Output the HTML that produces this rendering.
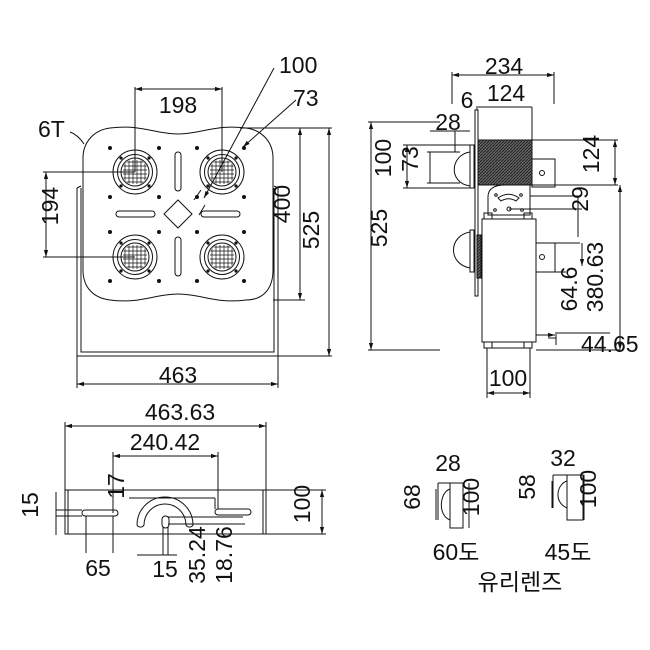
<!DOCTYPE html>
<html><head><meta charset="utf-8"><style>
body{margin:0;background:#fff}
svg{display:block}
text{font-family:"Liberation Sans","Noto Sans CJK KR",sans-serif;font-size:23px;fill:#111}
</style></head><body>
<svg width="650" height="650" viewBox="0 0 650 650" xmlns="http://www.w3.org/2000/svg">
<defs>
<marker id="a" viewBox="0 0 10 10" refX="10" refY="5" markerWidth="7" markerHeight="7" orient="auto-start-reverse"><path d="M0,2 L10,5 L0,8z" fill="#111"/></marker>
<pattern id="h" width="3" height="3" patternUnits="userSpaceOnUse"><rect width="3" height="3" fill="#666"/><path d="M0,3 L3,0" stroke="#222" stroke-width="1"/></pattern>
<clipPath id="c"><circle cx="0" cy="0" r="13"/></clipPath>
<g id="lens" stroke="#111" fill="none" stroke-width="1">
<circle r="22"/><circle r="17.5"/><circle r="14"/>
<g clip-path="url(#c)" stroke-width="0.7">
<path d="M-12,-10H12M-12,-6H12M-12,-2H12M-12,2H12M-12,6H12M-12,10H12M-10,-12V12M-6,-12V12M-2,-12V12M2,-12V12M6,-12V12M10,-12V12"/></g>
<g fill="#111" stroke="none"><circle cx="14" cy="-14" r="1.6"/><circle cx="-14" cy="-14" r="1.6"/><circle cx="14" cy="14" r="1.6"/><circle cx="-14" cy="14" r="1.6"/></g>
</g>
</defs>
<g stroke="#111" fill="none" stroke-width="1">
<path d="M77,188 V356 H278 V188 M81,188 V352 H274 V188"/>
<path d="M77,188 L81,186 M278,188 L274,186"/>
<path d="M110,128 C140,124 155,134 178,134 C201,134 216,124 246,128 C262,130 273,142 273,158 V270 C273,290 262,300 246,300 C216,304 201,294 178,294 C155,294 140,304 110,300 C94,298 83,288 83,270 V158 C83,142 94,130 110,128 Z" fill="#fff"/>
<use href="#lens" x="135" y="172"/><use href="#lens" x="222" y="172"/>
<use href="#lens" x="135" y="257"/><use href="#lens" x="222" y="257"/>
<rect x="175" y="152" width="6" height="39" rx="3"/><rect x="175" y="237" width="6" height="39" rx="3"/>
<rect x="116" y="211" width="39" height="6" rx="3"/><rect x="201" y="211" width="39" height="6" rx="3"/>
<path d="M178,200 L192,214 L178,228 L164,214 Z"/>
<g fill="#111" stroke="none">
<circle cx="110" cy="148" r="2"/><circle cx="159" cy="148" r="2"/><circle cx="197" cy="148" r="2"/><circle cx="244" cy="148" r="2"/>
<circle cx="110" cy="197" r="2"/><circle cx="159" cy="197" r="2"/><circle cx="197" cy="197" r="2"/><circle cx="244" cy="197" r="2"/>
<circle cx="110" cy="232" r="2"/><circle cx="159" cy="232" r="2"/><circle cx="197" cy="232" r="2"/><circle cx="244" cy="232" r="2"/>
<circle cx="110" cy="281" r="2"/><circle cx="159" cy="281" r="2"/><circle cx="197" cy="281" r="2"/><circle cx="244" cy="281" r="2"/>
</g>
<path d="M135,172 V87 M222,172 V87"/><path d="M135,89 H222" marker-start="url(#a)" marker-end="url(#a)"/>
<path d="M135,172 H43 M135,257 H43"/><path d="M46,172 V257" marker-start="url(#a)" marker-end="url(#a)"/>
<path d="M240,128 H332 M273,300 H305 M278,356 H332"/>
<path d="M300,128 V300" marker-start="url(#a)" marker-end="url(#a)"/>
<path d="M329,128 V356" marker-start="url(#a)" marker-end="url(#a)"/>
<path d="M77,356 V388 M278,356 V388"/><path d="M77,384 H278" marker-start="url(#a)" marker-end="url(#a)"/>
<path d="M70,132 C76,134 80,138 84,144"/>
<path d="M274,68 L204,198" marker-end="url(#a)"/>
<path d="M296,100 L243,147" marker-end="url(#a)"/>
<path d="M205,205 L199,215 M201,190 L194,200"/>
</g>
<text x="178" y="113" text-anchor="middle">198</text>
<text x="66" y="214" text-anchor="middle" transform="rotate(-90 58 214)">194</text>
<text x="298" y="212" text-anchor="middle" transform="rotate(-90 290 212)">400</text>
<text x="327" y="238" text-anchor="middle" transform="rotate(-90 319 238)">525</text>
<text x="178" y="383" text-anchor="middle">463</text>
<text x="38" y="137">6T</text>
<text x="279" y="73">100</text>
<text x="293" y="106">73</text>

<g stroke="#111" fill="none" stroke-width="1">
<rect x="477" y="140" width="55" height="45" fill="url(#h)"/>
<rect x="475" y="110" width="3" height="186" fill="#fff"/>
<rect x="532" y="159" width="23" height="28"/><circle cx="542" cy="173" r="2.5"/>
<path d="M470,152 C450,155 448,183 470,186"/><rect x="470" y="145" width="4" height="43"/>
<path d="M488,215 V197 C488,188 495,185 505,185 H530 V215 Z" fill="#fff"/>
<path d="M498,198 C505,193 512,193 519,198 L516,201 C511,198 506,198 501,201 Z"/>
<circle cx="509" cy="209" r="2"/><circle cx="496" cy="195" r="1.3"/><circle cx="521" cy="195" r="1.3"/><circle cx="495" cy="210" r="1.3"/><circle cx="522" cy="210" r="1.3"/>
<rect x="484" y="213" width="8" height="6"/><rect x="524" y="213" width="8" height="6"/>
<rect x="482" y="219" width="54" height="123" fill="#fff"/>
<rect x="484" y="342" width="8" height="6"/><rect x="524" y="342" width="8" height="6"/><path d="M486,348 H530"/>
<rect x="536" y="243" width="19" height="29"/><circle cx="542" cy="257" r="2.5"/><path d="M555,243 H580 M555,272 H566"/>
<path d="M470,232 C448,236 448,264 470,268"/><rect x="470" y="230" width="4" height="42"/>
<rect x="477" y="235" width="4" height="43" fill="url(#h)"/>
<path d="M452,104 V72 M554,104 V72"/><path d="M452,75 H554" marker-start="url(#a)" marker-end="url(#a)"/>
<path d="M478,107 H532 M532,107 V140 M477,110 V106"/>
<path d="M430,131 H470 M455,131 V152"/>
<path d="M403,145 H470 M403,188 H470"/><path d="M407,145 V188" marker-start="url(#a)" marker-end="url(#a)"/>
<path d="M427,152 H460 M427,183 H460 M430,152 V183"/>
<path d="M532,140 H618 M532,185 H618"/><path d="M615,140 V185" marker-start="url(#a)" marker-end="url(#a)"/>
<path d="M530,196 H580 M509,209 H582 M578,196 V237"/>
<path d="M368,122 H440 M368,350 H440"/><path d="M371,122 V350" marker-start="url(#a)" marker-end="url(#a)"/>
<path d="M536,350 H620"/><path d="M620,185 V350" marker-start="url(#a)" marker-end="url(#a)"/>
<path d="M582,243 V266" marker-end="url(#a)"/><path d="M555,333 H610 M556,338 L548,338 M556,345 V334"/>
<path d="M536,335 H555" marker-end="url(#a)"/>
<path d="M487,348 V398 M530,348 V398"/><path d="M487,393 H530" marker-start="url(#a)" marker-end="url(#a)"/>
</g>
<text x="504" y="74" text-anchor="middle">234</text>
<text x="506" y="101" text-anchor="middle">124</text>
<text x="467" y="108" text-anchor="middle">6</text>
<text x="448" y="130" text-anchor="middle">28</text>
<text x="399" y="166" text-anchor="middle" transform="rotate(-90 391 166)">100</text>
<text x="426" y="167" text-anchor="middle" transform="rotate(-90 418 167)">73</text>
<text x="607" y="162" text-anchor="middle" transform="rotate(-90 599 162)">124</text>
<text x="596" y="207" text-anchor="middle" transform="rotate(-90 588 207)">29</text>
<text x="395" y="236" text-anchor="middle" transform="rotate(-90 387 236)">525</text>
<text x="611" y="285" text-anchor="middle" transform="rotate(-90 603 285)">380.63</text>
<text x="585" y="297" text-anchor="middle" transform="rotate(-90 577 297)">64.6</text>
<text x="581" y="352">44.65</text>
<text x="508" y="386" text-anchor="middle">100</text>

<g stroke="#111" fill="none" stroke-width="1">
<rect x="65" y="490" width="201" height="44"/><path d="M68,490 V534 M263,490 V534 M266,490 H326 M266,534 H326"/>
<rect x="82" y="510" width="36" height="6" rx="3"/><rect x="215" y="509" width="36" height="6" rx="3"/>
<path d="M137,525 A28,28 0 0 1 193,525 A4,4 0 0 1 186,525 A21,21 0 0 0 144,525 A4,4 0 0 1 137,525 Z"/>
<rect x="162" y="516" width="7" height="12" rx="3.5"/>
<path d="M65,490 V422 M266,490 V422"/><path d="M65,426 H266" marker-start="url(#a)" marker-end="url(#a)"/>
<path d="M113,513 V452 M218,509 V452"/><path d="M113,456 H218" marker-start="url(#a)" marker-end="url(#a)"/>
<path d="M56,510 H82 M56,516 H82 M56,492 V535"/>
<path d="M86,516 V553 M113,516 V553"/>
<path d="M137,555 H177 M163,527 V555 M168,527 V555"/>
<path d="M168,517 H243 M168,524 H245 M129,498 H215 M215,498 V509"/>
<path d="M303,490 H326 M303,534 H326"/><path d="M322,490 V534" marker-start="url(#a)" marker-end="url(#a)"/>
</g>
<text x="180" y="420" text-anchor="middle">463.63</text>
<text x="165" y="450" text-anchor="middle">240.42</text>
<text x="46" y="513" text-anchor="middle" transform="rotate(-90 38 513)">15</text>
<text x="132" y="494" text-anchor="middle" transform="rotate(-90 124 494)">17</text>
<text x="318" y="512" text-anchor="middle" transform="rotate(-90 310 512)">100</text>
<text x="98" y="576" text-anchor="middle">65</text>
<text x="165" y="577" text-anchor="middle">15</text>
<text x="213" y="563" text-anchor="middle" transform="rotate(-90 205 563)">35.24</text>
<text x="240" y="563" text-anchor="middle" transform="rotate(-90 232 563)">18.76</text>

<g stroke="#111" fill="none" stroke-width="1">
<rect x="450" y="483" width="13" height="45"/><path d="M450,489 C440,492 437,515 450,520"/>
<path d="M438,483 V520 M438,483 H450 M436,489 V520" />
<path d="M469,483 V528"/>
<rect x="567" y="475" width="16" height="45"/><path d="M567,481 C557,484 553,502 567,508"/>
<path d="M553,475 V508 M553,475 H567 M552,481 V508 M584,475 V520"/>
</g>
<text x="448" y="471" text-anchor="middle">28</text>
<text x="563" y="466" text-anchor="middle">32</text>
<text x="428" y="505" text-anchor="middle" transform="rotate(-90 420 505)">68</text>
<text x="487" y="505" text-anchor="middle" transform="rotate(-90 479 505)">100</text>
<text x="543" y="495" text-anchor="middle" transform="rotate(-90 535 495)">58</text>
<text x="604" y="497" text-anchor="middle" transform="rotate(-90 596 497)">100</text>
<text x="456" y="560" text-anchor="middle">60도</text>
<text x="568" y="560" text-anchor="middle">45도</text>
<text x="520" y="590" text-anchor="middle">유리렌즈</text>
</svg>
</body></html>
